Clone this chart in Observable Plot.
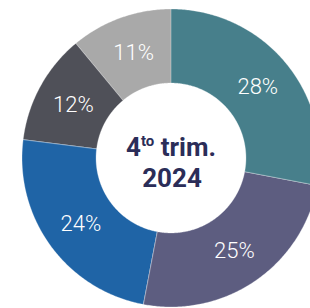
<!DOCTYPE html>
<html><head><meta charset="utf-8">
<script src="https://cdn.jsdelivr.net/npm/d3@7"></script>
<script src="https://cdn.jsdelivr.net/npm/@observablehq/plot@0.6"></script>
<style>html,body{margin:0;padding:0;background:#fff;overflow:hidden}</style>
</head><body><div id="chart"></div>
<script>
// Data
const categories = ["Seg. 1", "Seg. 2", "Seg. 3", "Seg. 4", "Seg. 5"];
const shares = [28, 25, 24, 12, 11];
const labels = ["28%", "25%", "24%", "12%", "11%"];
const colors = ["#477f8b", "#5d5d80", "#1f64a6", "#4f5058", "#a9a9a9"];
const centerMain = "4";
const centerSup = "to";
const centerRest = " trim.";
const centerLine2 = "2024";
const cutTitle = "s";

// Layout
const W = 310, H = 308, cx = 171, cy = 158, R = 149, innerRatio = 0.503;

const pie = d3.pie().sort(null).value(d => d.value)(
  categories.map((c, i) => ({cat: c, value: shares[i], label: labels[i]}))
);

// sample the ring geometry of each slice
const ring = [];
for (const s of pie) {
  const n = Math.max(2, Math.ceil((s.endAngle - s.startAngle) / 0.01));
  for (let k = 0; k <= n; k++) {
    const a = s.startAngle + (s.endAngle - s.startAngle) * k / n;
    ring.push({cat: s.data.cat,
      x1: innerRatio * Math.sin(a), y1: innerRatio * Math.cos(a),
      x2: Math.sin(a), y2: Math.cos(a)});
  }
}
const rr = (1 + innerRatio) / 2;
const labelData = pie.map(s => {
  const a = (s.startAngle + s.endAngle) / 2;
  return {label: s.data.label, x: rr * Math.sin(a), y: rr * Math.cos(a)};
});

function centerMark(index, scales) {
  const X = scales.x(0), Y = scales.y(0);
  const g = d3.create("svg:g");
  const t1 = g.append("text")
    .attr("x", X).attr("y", Y - 2)
    .attr("text-anchor", "middle")
    .attr("fill", "#2b2d58")
    .attr("font-family", "Roboto")
    .attr("font-weight", 700)
    .attr("font-size", 26);
  t1.append("tspan").text(centerMain);
  t1.append("tspan").attr("font-size", 15).attr("dy", -10).text(centerSup);
  t1.append("tspan").attr("dy", 10).text(centerRest);
  g.append("text")
    .attr("x", X + 1).attr("y", Y + 29)
    .attr("text-anchor", "middle")
    .attr("fill", "#2b2d58")
    .attr("font-family", "Roboto")
    .attr("font-weight", 700)
    .attr("font-size", 26)
    .text(centerLine2);
  g.append("text")
    .attr("x", -5).attr("y", 14)
    .attr("fill", "#6a6c9a")
    .attr("font-family", "Roboto")
    .attr("font-size", 14)
    .text(cutTitle);
  return g.node();
}

const plot = Plot.plot({
  width: W, height: H, margin: 0,
  style: {fontFamily: "Roboto", background: "transparent"},
  x: {domain: [-cx / R, (W - cx) / R], axis: null},
  y: {domain: [-(H - cy) / R, cy / R], axis: null},
  color: {domain: categories, range: colors},
  marks: [
    Plot.area(ring, {x1: "x1", y1: "y1", x2: "x2", y2: "y2", z: "cat", fill: "cat",
      stroke: "white", strokeWidth: 0.5, strokeOpacity: 0.6}),
    Plot.text(labelData, {x: "x", y: "y", text: "label", fill: "white",
      fontSize: 22, fontWeight: 300, fontFamily: "Roboto"}),
    centerMark
  ]
});
document.getElementById("chart").appendChild(plot);
</script>
</body></html>
